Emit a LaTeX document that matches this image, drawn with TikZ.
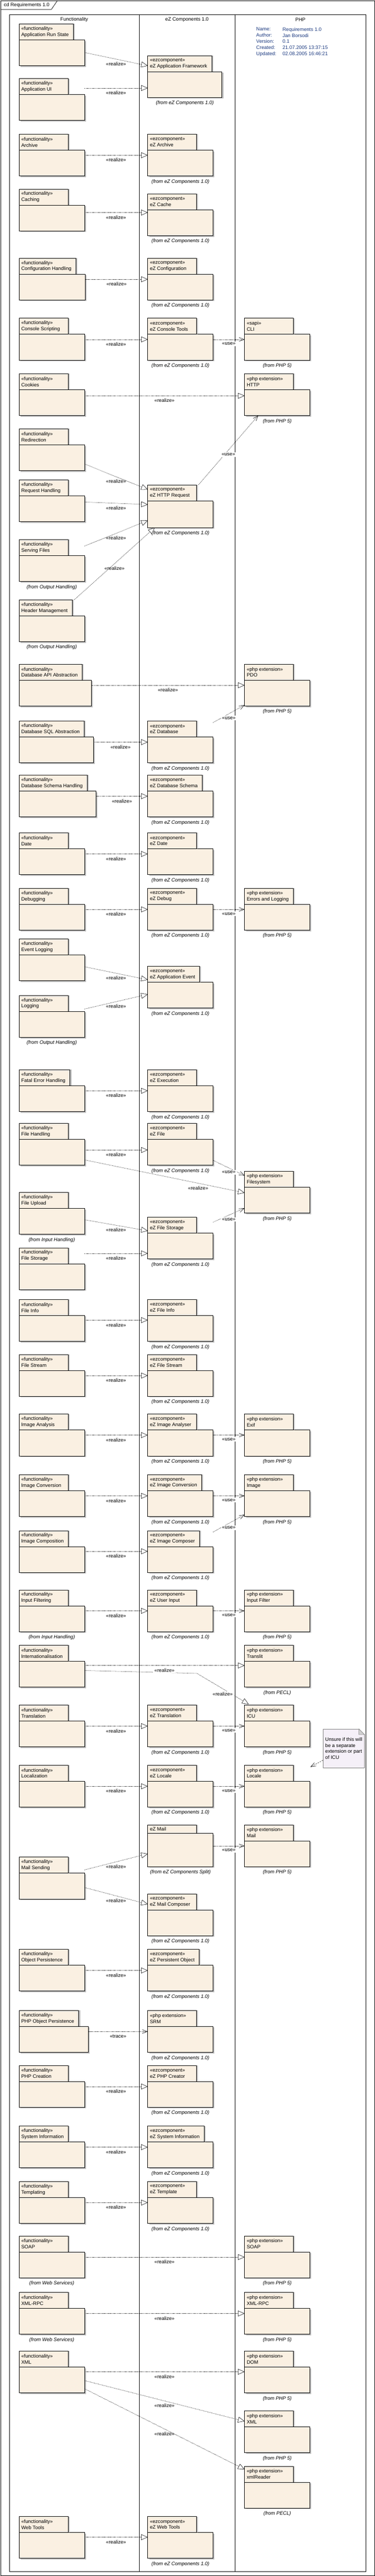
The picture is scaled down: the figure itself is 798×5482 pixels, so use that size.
\documentclass[tikz,border=0pt]{standalone}
\usepackage{fontspec}
\setmainfont{Liberation Sans}
\usepackage{tikz}
\usetikzlibrary{arrows.meta, positioning, shadows}

\definecolor{pkgfill}{RGB}{250,240,226}
\definecolor{notefill}{RGB}{245,240,248}
\definecolor{infoblue}{RGB}{28,58,128}
\newcommand{\diafont}{\fontsize{10.5}{13}\selectfont}
\newcommand{\fromez}{(from eZ Components 1.0)}
\newcommand{\fromphp}{(from PHP 5)}
% package = body node, tab and "from" text as labels
\newcommand{\pkg}[7][]{%
  \node[pkg, #1,
    label={[tab, name=#2-t]north west:\makebox[94.8pt][l]{#5}\\#6\hspace*{5pt}},
    label={[from]below:#7}] (#2) at (#3,#4) {};}

\begin{document}
\begin{tikzpicture}[x=1pt, y=-1pt, font=\diafont, line width=0.8pt,
    pkg/.style={draw, fill=pkgfill, anchor=north west, minimum width=139pt, minimum height=55pt,
      inner sep=0pt, outer sep=0pt, yshift=-34pt, drop shadow={shadow xshift=3pt, shadow yshift=-2.5pt}},
    tab/.style={draw, fill=pkgfill, anchor=south west, align=left, minimum height=34pt,
      inner xsep=4.6pt, inner ysep=0pt, outer sep=0pt, drop shadow={shadow xshift=3pt, shadow yshift=0pt}},
    from/.style={font=\diafont\itshape, inner sep=1pt, yshift=-6pt},
    realize/.style={draw, line width=0.6pt, dash pattern=on 1.5pt off 1.5pt,
      -{Triangle[length=14pt, width=12pt, fill=white]}},
    use/.style={draw, line width=0.6pt, dash pattern=on 1.5pt off 1.5pt,
      -{Straight Barb[length=11pt, width=8pt]}},
    lbl/.style={below=4pt, inner sep=2pt},
    lblw/.style={lbl, fill=white},
    info/.style={text=infoblue, align=left, inner sep=0pt, anchor=north west},
    note/.style={fill=notefill, draw=black!50, align=left, anchor=north west, inner xsep=4.5pt,
      minimum height=82pt, line width=0.6pt}]
  \useasboundingbox (0,0) rectangle (798,5482);

  % frame and lanes
  \draw (1.5,1.5) rectangle (797,5481);
  \draw (1.5,1.5) -- (122,1.5) -- (109.4,20) -- (1.5,20);
  \node[anchor=west] (title) at (4.5,10.7) {cd Requirements 1.0};
  \draw (20,31) rectangle (779,5472.3);
  \draw (296,31) -- (296,5472.3);
  \draw (500,31) -- (500,5472.3);
  \node (lfunc) at (158,41.7) {Functionality};
  \node (lez) at (398,41.7) {eZ Components 1.0};
  \node (lphp) at (639.5,41.7) {PHP};
  \node[info] (infokeys) at (545,58) {Name:\\Author:\\Version:\\Created:\\Updated:};
  \node[info] (infovals) at (601,58) {Requirements 1.0\\Jan Borsodi\\0.1\\21.07.2005 13:37:15\\02.08.2005 16:46:21};

  % Functionality
  \pkg{fars}{40.7}{50.7}{«functionality»}{Application Run State}{}
  \pkg{faui}{40.7}{167.3}{«functionality»}{Application UI}{}
  \pkg{farch}{40.7}{285.3}{«functionality»}{Archive}{}
  \pkg{fcach}{40.7}{402.3}{«functionality»}{Caching}{}
  \pkg[minimum width=141pt]{fconf}{40.7}{549.3}{«functionality»}{Configuration Handling}{}
  \pkg{fcons}{40.7}{677.3}{«functionality»}{Console Scripting}{}
  \pkg{fcook}{40.7}{795.3}{«functionality»}{Cookies}{}
  \pkg{fredir}{40.7}{912.7}{«functionality»}{Redirection}{}
  \pkg{freq}{40.7}{1021.3}{«functionality»}{Request Handling}{}
  \pkg{fserv}{40.7}{1148.3}{«functionality»}{Serving Files}{(from Output Handling)}
  \pkg{fhead}{40.7}{1276.3}{«functionality»}{Header Management}{(from Output Handling)}
  \pkg[minimum width=153.7pt]{fdbapi}{40.7}{1413.3}{«functionality»}{Database API Abstraction}{}
  \pkg[minimum width=157.8pt]{fdbsql}{40.7}{1534.3}{«functionality»}{Database SQL Abstraction}{}
  \pkg[minimum width=163.9pt]{fdbsch}{40.7}{1649.3}{«functionality»}{Database Schema Handling}{}
  \pkg{fdate}{40.7}{1772.3}{«functionality»}{Date}{}
  \pkg{fdebug}{40.7}{1890.3}{«functionality»}{Debugging}{}
  \pkg{fevent}{40.7}{1998.3}{«functionality»}{Event Logging}{}
  \pkg{flog}{40.7}{2118.3}{«functionality»}{Logging}{(from Output Handling)}
  \pkg{ffatal}{40.7}{2276.3}{«functionality»}{Fatal Error Handling}{}
  \pkg{ffile}{40.7}{2390.3}{«functionality»}{File Handling}{}
  \pkg{fupload}{40.7}{2537.3}{«functionality»}{File Upload}{(from Input Handling)}
  \pkg{fstore}{40.7}{2655.3}{«functionality»}{File Storage}{}
  \pkg{finfo}{40.7}{2765.3}{«functionality»}{File Info}{}
  \pkg{fstream}{40.7}{2882.3}{«functionality»}{File Stream}{}
  \pkg{fimgan}{40.7}{3009.3}{«functionality»}{Image Analysis}{}
  \pkg{fimgconv}{40.7}{3138.3}{«functionality»}{Image Conversion}{}
  \pkg{fimgcomp}{40.7}{3257.3}{«functionality»}{Image Composition}{}
  \pkg{finput}{40.7}{3383.3}{«functionality»}{Input Filtering}{(from Input Handling)}
  \pkg{fi18n}{40.7}{3501.3}{«functionality»}{Internationalisation}{}
  \pkg{ftrans}{40.7}{3628.3}{«functionality»}{Translation}{}
  \pkg{flocal}{40.7}{3756.3}{«functionality»}{Localization}{}
  \pkg{fmail}{40.7}{3952.3}{«functionality»}{Mail Sending}{}
  \pkg{fpersist}{40.7}{4148.3}{«functionality»}{Object Persistence}{}
  \pkg[minimum width=147.6pt]{fphppers}{40.7}{4278.3}{«functionality»}{PHP Object Persistence}{}
  \pkg{fphpcr}{40.7}{4395.3}{«functionality»}{PHP Creation}{}
  \pkg{fsysinfo}{40.7}{4524.3}{«functionality»}{System Information}{}
  \pkg{ftpl}{40.7}{4642.3}{«functionality»}{Templating}{}
  \pkg{fsoap}{40.7}{4758.3}{«functionality»}{SOAP}{(from Web Services)}
  \pkg{fxmlrpc}{40.7}{4878.3}{«functionality»}{XML-RPC}{(from Web Services)}
  \pkg{fxml}{40.7}{5003.3}{«functionality»}{XML}{}
  \pkg{fweb}{40.7}{5355.3}{«functionality»}{Web Tools}{}

  % eZ Components 1.0
  \pkg[minimum width=157.8pt]{zapp}{314.5}{118.3}{«ezcomponent»}{eZ Application Framework}{\fromez}
  \pkg{zarch}{314.5}{285.3}{«ezcomponent»}{eZ Archive}{\fromez}
  \pkg{zcache}{314.5}{412.3}{«ezcomponent»}{eZ Cache}{\fromez}
  \pkg{zconf}{314.5}{549.3}{«ezcomponent»}{eZ Configuration}{\fromez}
  \pkg{zcons}{314.5}{677.3}{«ezcomponent»}{eZ Console Tools}{\fromez}
  \pkg[minimum height=57pt]{zhttp}{314.5}{1031.7}{«ezcomponent»}{eZ HTTP Request}{\fromez}
  \pkg{zdb}{314.5}{1534.3}{«ezcomponent»}{eZ Database}{\fromez}
  \pkg{zdbsch}{314.5}{1649.3}{«ezcomponent»}{eZ Database Schema}{\fromez}
  \pkg{zdate}{314.5}{1772.3}{«ezcomponent»}{eZ Date}{\fromez}
  \pkg{zdebug}{314.5}{1890.3}{«ezcomponent»}{eZ Debug}{\fromez}
  \pkg{zevent}{314.5}{2056.3}{«ezcomponent»}{eZ Application Event}{\fromez}
  \pkg{zexec}{314.5}{2276.3}{«ezcomponent»}{eZ Execution}{\fromez}
  \pkg{zfile}{314.5}{2390.3}{«ezcomponent»}{eZ File}{\fromez}
  \pkg{zstore}{314.5}{2590.3}{«ezcomponent»}{eZ File Storage}{\fromez}
  \pkg{zinfo}{314.5}{2765.3}{«ezcomponent»}{eZ File Info}{\fromez}
  \pkg{zstream}{314.5}{2882.3}{«ezcomponent»}{eZ File Stream}{\fromez}
  \pkg{zimgan}{314.5}{3009.3}{«ezcomponent»}{eZ Image Analyser}{\fromez}
  \pkg{zimgconv}{314.5}{3138.3}{«ezcomponent»}{eZ Image Conversion}{\fromez}
  \pkg{zimgcomp}{314.5}{3257.3}{«ezcomponent»}{eZ Image Composer}{\fromez}
  \pkg{zinput}{314.5}{3383.3}{«ezcomponent»}{eZ User Input}{\fromez}
  \pkg{ztrans}{314.5}{3628.3}{«ezcomponent»}{eZ Translation}{\fromez}
  \pkg{zlocale}{314.5}{3756.3}{«ezcomponent»}{eZ Locale}{\fromez}
  \node[pkg, yshift=16pt, minimum height=71pt,
    label={[tab, name=zmail-t, minimum height=18pt]north west:\makebox[94.8pt][l]{eZ Mail}},
    label={[from]below:(from eZ Components Split)}] (zmail) at (314.5,3883.3) {};
  \pkg{zmailc}{314.5}{4030.3}{«ezcomponent»}{eZ Mail Composer}{\fromez}
  \pkg{zpersist}{314.5}{4148.3}{«ezcomponent»}{eZ Persistent Object}{\fromez}
  \pkg{zsrm}{314.5}{4278.3}{«php extension»}{SRM}{\fromez}
  \pkg{zphpcr}{314.5}{4395.3}{«ezcomponent»}{eZ PHP Creator}{\fromez}
  \pkg{zsysinfo}{314.5}{4524.3}{«ezcomponent»}{eZ System Information}{\fromez}
  \pkg{ztpl}{314.5}{4642.3}{«ezcomponent»}{eZ Template}{\fromez}
  \pkg{zweb}{314.5}{5355.3}{«ezcomponent»}{eZ Web Tools}{\fromez}

  % PHP
  \pkg{pcli}{520.6}{677.3}{«sapi»}{CLI}{\fromphp}
  \pkg{phttp}{520.6}{795.3}{«php extension»}{HTTP}{\fromphp}
  \pkg{ppdo}{520.6}{1413.3}{«php extension»}{PDO}{\fromphp}
  \pkg{perr}{520.6}{1890.3}{«php extension»}{Errors and Logging}{\fromphp}
  \pkg{pfs}{520.6}{2492.3}{«php extension»}{Filesystem}{\fromphp}
  \pkg{pexif}{520.6}{3009.3}{«php extension»}{Exif}{\fromphp}
  \pkg{pimage}{520.6}{3138.3}{«php extension»}{Image}{\fromphp}
  \pkg{pinput}{520.6}{3383.3}{«php extension»}{Input Filter}{\fromphp}
  \pkg{ptranslit}{520.6}{3501.3}{«php extension»}{Translit}{(from PECL)}
  \pkg{picu}{520.6}{3628.3}{«php extension»}{ICU}{\fromphp}
  \pkg{plocale}{520.6}{3756.3}{«php extension»}{Locale}{\fromphp}
  \pkg{pmail}{520.6}{3883.3}{«php extension»}{Mail}{\fromphp}
  \pkg{psoap}{520.6}{4758.3}{«php extension»}{SOAP}{\fromphp}
  \pkg{pxmlrpc}{520.6}{4878.3}{«php extension»}{XML-RPC}{\fromphp}
  \pkg{pdom}{520.6}{5003.3}{«php extension»}{DOM}{\fromphp}
  \pkg{pxml}{520.6}{5130.3}{«php extension»}{XML}{\fromphp}
  \pkg{pxmlr}{520.6}{5248.3}{«php extension»}{xmlReader}{(from PECL)}

  % note
  \node[note] (unsure) at (687.5,3679.3) {Unsure if this will\\be a separate\\extension or part\\of ICU};
  \fill[white] ([xshift=-12pt, yshift=1pt]unsure.north east) -- ([xshift=1pt, yshift=1pt]unsure.north east)
    -- ([xshift=1pt, yshift=-12pt]unsure.north east) -- cycle;
  \filldraw[fill=black!18, draw=black!50, line width=0.6pt] ([xshift=-12pt]unsure.north east)
    -- ([xshift=-12pt, yshift=-12pt]unsure.north east) -- ([yshift=-12pt]unsure.north east) -- cycle;

  % connectors
  \draw[realize] ([yshift=-27pt]fars.north east) -- node[lbl] {«realize»} ([yshift=12.3pt]zapp.north west);
  \draw[realize] ([yshift=14pt]faui.north east) -- node[lbl] {«realize»} ([yshift=-35pt]zapp.north west);
  \draw[realize] ([yshift=-11pt]farch.north east) -- node[lbl] {«realize»} ([yshift=-11pt]zarch.north west);
  \draw[realize] ([yshift=-16pt]fcach.north east) -- node[lbl] {«realize»} ([yshift=-6pt]zcache.north west);
  \draw[realize] ([yshift=-11pt]fconf.north east) -- node[lbl] {«realize»} ([yshift=-11pt]zconf.north west);
  \draw[realize] ([yshift=-11pt]fcons.north east) -- node[lbl] {«realize»} ([yshift=-11pt]zcons.north west);
  \draw[use] ([yshift=-11pt]zcons.north east) -- node[lblw] {«use»} ([yshift=-11pt]pcli.north west);
  \draw[realize] ([yshift=-13pt]fcook.north east) -- node[lbl] {«realize»} ([yshift=-13pt]phttp.north west);
  \draw[use] ([xshift=4pt]zhttp-t.north east) -- node[lblw, pos=0.5] {«use»} ([xshift=29pt]phttp.south west);
  \draw[realize] ([yshift=-40.6pt]fredir.north east) -- node[lbl] {«realize»} ([yshift=24pt]zhttp.north west);
  \draw[realize] ([yshift=-13pt]freq.north east) -- node[lbl] {«realize»} ([yshift=-8pt]zhttp.north west);
  \draw[realize] ([yshift=20pt]fserv.north east) -- node[lbl] {«realize»} ([yshift=-42pt]zhttp.north west);
  \draw[realize] ([xshift=4.6pt]fhead-t.north east) -- node[lbl] {«realize»} ([xshift=15pt]zhttp.south west);
  \draw[realize] ([yshift=-11pt]fdbapi.north east) -- node[lbl] {«realize»} ([yshift=-11pt]ppdo.north west);
  \draw[realize] ([yshift=-11pt]fdbsql.north east) -- node[lbl] {«realize»} ([yshift=-11pt]zdb.north west);
  \draw[use] ([yshift=30.6pt]zdb.north east) -- node[lblw] {«use»} ([yshift=2pt]ppdo.south west);
  \draw[realize] ([yshift=-11pt]fdbsch.north east) -- node[lbl] {«realize»} ([yshift=-11pt]zdbsch.north west);
  \draw[realize] ([yshift=-11pt]fdate.north east) -- node[lbl] {«realize»} ([yshift=-11pt]zdate.north west);
  \draw[realize] ([yshift=-11pt]fdebug.north east) -- node[lbl] {«realize»} ([yshift=-11pt]zdebug.north west);
  \draw[use] ([yshift=-11pt]zdebug.north east) -- node[lblw] {«use»} ([yshift=-11pt]perr.north west);
  \draw[realize] ([yshift=-25pt]fevent.north east) -- node[lbl] {«realize»} ([yshift=5.3pt]zevent.north west);
  \draw[realize] ([yshift=5pt]flog.north east) -- node[lbl] {«realize»} ([yshift=-25.7pt]zevent.north west);
  \draw[realize] ([yshift=-11pt]ffatal.north east) -- node[lbl] {«realize»} ([yshift=-11pt]zexec.north west);
  \draw[realize] ([yshift=-23pt]ffile.north east) -- node[lbl] {«realize»} ([yshift=-23pt]zfile.north west);
  \draw[realize] ([yshift=-44pt]ffile.north east) -- node[lbl, pos=0.71] {«realize»} ([yshift=-12pt]pfs.north west);
  \draw[use] ([yshift=-45pt]zfile.north east) -- node[lblw] {«use»} ([yshift=24.6pt]pfs.north west);
  \draw[realize] ([yshift=-24.4pt]fupload.north east) -- node[lbl] {«realize»} ([yshift=5pt]zstore.north west);
  \draw[realize] ([yshift=22pt]fstore.north east) -- node[lbl] {«realize»} ([yshift=-43pt]zstore.north west);
  \draw[use] ([yshift=23.3pt]zstore.north east) -- node[lblw] {«use»} ([yshift=10.3pt]pfs.south west);
  \draw[realize] ([yshift=-10pt]finfo.north east) -- node[lbl] {«realize»} ([yshift=-10pt]zinfo.north west);
  \draw[realize] ([yshift=-11pt]fstream.north east) -- node[lbl] {«realize»} ([yshift=-11pt]zstream.north west);
  \draw[realize] ([yshift=-10.7pt]fimgan.north east) -- node[lbl] {«realize»} ([yshift=-10.7pt]zimgan.north west);
  \draw[use] ([yshift=-10.7pt]zimgan.north east) -- node[lblw] {«use»} ([yshift=-10.7pt]pexif.north west);
  \draw[realize] ([yshift=-11pt]fimgconv.north east) -- node[lbl] {«realize»} ([yshift=-11pt]zimgconv.north west);
  \draw[use] ([yshift=-11pt]zimgconv.north east) -- node[lblw] {«use»} ([yshift=-11pt]pimage.north west);
  \draw[realize] ([yshift=-10pt]fimgcomp.north east) -- node[lbl] {«realize»} ([yshift=-10pt]zimgcomp.north west);
  \draw[use] ([yshift=31pt]zimgcomp.north east) -- node[lblw] {«use»} ([yshift=4pt]pimage.south west);
  \draw[realize] ([yshift=-10.7pt]finput.north east) -- node[lbl] {«realize»} ([yshift=-10.7pt]zinput.north west);
  \draw[use] ([yshift=-10.7pt]zinput.north east) -- node[lblw] {«use»} ([yshift=-10.7pt]pinput.north west);
  \draw[realize] ([yshift=-19.7pt]fi18n.north east) -- ++(239.3,6)
    -- node[lblw, pos=0.55, below left=2pt and -18pt] {«realize»} ([xshift=8.7pt, yshift=1.6pt]picu-t.north west);
  \draw[realize] ([yshift=-9pt]fi18n.north east) -- node[lblw] {«realize»} ([yshift=-9pt]ptranslit.north west);
  \draw[realize] ([yshift=-11pt]ftrans.north east) -- node[lbl] {«realize»} ([yshift=-11pt]ztrans.north west);
  \draw[use] ([yshift=-11pt]ztrans.north east) -- node[lblw] {«use»} ([yshift=-11pt]picu.north west);
  \draw[realize] ([yshift=-11pt]flocal.north east) -- node[lbl] {«realize»} ([yshift=-11pt]zlocale.north west);
  \draw[use] ([yshift=-11pt]zlocale.north east) -- node[lblw] {«use»} ([yshift=-11pt]plocale.north west);
  \draw[use, dash pattern=on 3pt off 2pt] ([yshift=16pt]unsure.south west) -- ([xshift=1pt, yshift=30pt]plocale.north east);
  \draw[use] ([yshift=-27pt]zmail.north east) -- node[lblw] {«use»} ([yshift=-11pt]pmail.north west);
  \draw[realize] ([yshift=7pt]fmail.north east) -- node[lbl] {«realize»} ([yshift=-43.7pt]zmail.north west);
  \draw[realize] ([yshift=-30.4pt]fmail.north east) -- node[lbl] {«realize»} ([yshift=12pt]zmailc.north west);
  \draw[realize] ([yshift=-11pt]fpersist.north east) -- node[lbl] {«realize»} ([yshift=-11pt]zpersist.north west);
  \draw[use] ([yshift=-11pt]fphppers.north east) -- node[lbl] {«trace»} ([yshift=-11pt]zsrm.north west);
  \draw[realize] ([yshift=-11pt]fphpcr.north east) -- node[lbl] {«realize»} ([yshift=-11pt]zphpcr.north west);
  \draw[realize] ([yshift=-11pt]fsysinfo.north east) -- node[lbl] {«realize»} ([yshift=-11pt]zsysinfo.north west);
  \draw[realize] ([yshift=-11pt]ftpl.north east) -- node[lbl] {«realize»} ([yshift=-11pt]ztpl.north west);
  \draw[realize] ([yshift=-11pt]fsoap.north east) -- node[lbl] {«realize»} ([yshift=-11pt]psoap.north west);
  \draw[realize] ([yshift=-11pt]fxmlrpc.north east) -- node[lbl] {«realize»} ([yshift=-11pt]pxmlrpc.north west);
  \draw[realize] ([yshift=-10pt]fxml.north east) -- node[lbl] {«realize»} ([yshift=-10pt]pdom.north west);
  \draw[realize] ([yshift=-28.7pt]fxml.north east) -- node[lbl] {«realize»} ([yshift=11.6pt]pxml.north west);
  \draw[realize] ([yshift=-46pt]fxml.north east) -- node[lbl] {«realize»} ([yshift=27.3pt]pxmlr.north west);
  \draw[realize] ([yshift=-10pt]fweb.north east) -- node[lbl] {«realize»} ([yshift=-10pt]zweb.north west);
\end{tikzpicture}
\end{document}
